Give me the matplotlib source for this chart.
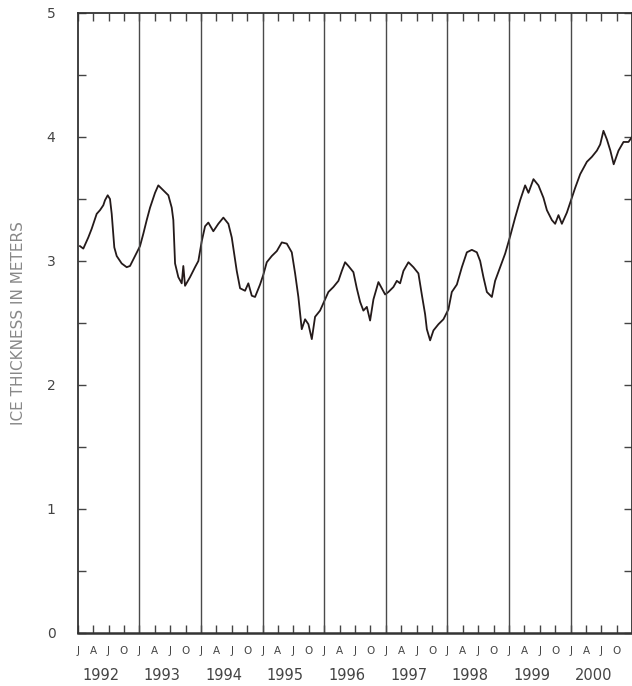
import matplotlib
matplotlib.use("Agg")
import matplotlib.pyplot as plt
import numpy as np

# ---- data ----
time_offset = [0.037, 0.091, 0.172, 0.227, 0.308, 0.362, 0.416, 0.443, 0.487, 0.524, 0.552, 0.594, 0.633, 0.714, 0.795, 0.849, 0.930,
               1.011, 1.065, 1.120, 1.174, 1.255, 1.308, 1.390, 1.471, 1.526, 1.552, 1.580, 1.633, 1.688, 1.714, 1.742, 1.823, 1.904, 1.958,
               2.013, 2.067, 2.120, 2.201, 2.282, 2.364, 2.445, 2.500, 2.581, 2.635, 2.716, 2.769, 2.825, 2.878, 2.959,
               3.013, 3.068, 3.149, 3.231, 3.312, 3.393, 3.474, 3.528, 3.581, 3.636, 3.690, 3.744, 3.799, 3.852, 3.933,
               4.015, 4.068, 4.149, 4.231, 4.286, 4.339, 4.393, 4.474, 4.529, 4.583, 4.636, 4.692, 4.745, 4.799, 4.880, 4.935, 4.989,
               5.042, 5.123, 5.179, 5.232, 5.286, 5.367, 5.448, 5.529, 5.584, 5.638, 5.666, 5.719, 5.773, 5.854, 5.935,
               6.016, 6.071, 6.153, 6.234, 6.315, 6.396, 6.477, 6.531, 6.584, 6.640, 6.721, 6.774, 6.856, 6.937,
               7.018, 7.099, 7.180, 7.261, 7.315, 7.396, 7.477, 7.558, 7.614, 7.695, 7.748, 7.802, 7.857, 7.938,
               8.019, 8.073, 8.154, 8.263, 8.344, 8.425, 8.479, 8.532, 8.588, 8.644, 8.698, 8.776, 8.857, 8.938, 8.994]
ice_thickness = [3.12, 3.10, 3.19, 3.26, 3.38, 3.41, 3.45, 3.49, 3.53, 3.50, 3.38, 3.11, 3.04, 2.98, 2.95, 2.96, 3.04,
                 3.12, 3.22, 3.33, 3.43, 3.55, 3.61, 3.57, 3.53, 3.43, 3.33, 2.98, 2.87, 2.82, 2.96, 2.80, 2.87, 2.95, 3.00,
                 3.16, 3.28, 3.31, 3.24, 3.30, 3.35, 3.30, 3.19, 2.92, 2.78, 2.76, 2.82, 2.72, 2.71, 2.81,
                 2.89, 2.99, 3.04, 3.08, 3.15, 3.14, 3.07, 2.90, 2.71, 2.45, 2.53, 2.49, 2.37, 2.55, 2.60,
                 2.69, 2.75, 2.79, 2.84, 2.92, 2.99, 2.96, 2.91, 2.78, 2.67, 2.60, 2.63, 2.52, 2.69, 2.83, 2.78, 2.73,
                 2.75, 2.79, 2.84, 2.82, 2.92, 2.99, 2.95, 2.90, 2.73, 2.57, 2.45, 2.36, 2.44, 2.49, 2.53,
                 2.61, 2.75, 2.81, 2.95, 3.07, 3.09, 3.07, 3.00, 2.87, 2.75, 2.71, 2.84, 2.95, 3.06,
                 3.20, 3.35, 3.49, 3.61, 3.55, 3.66, 3.61, 3.51, 3.41, 3.33, 3.30, 3.37, 3.30, 3.39,
                 3.51, 3.59, 3.70, 3.80, 3.84, 3.89, 3.94, 4.05, 3.98, 3.89, 3.78, 3.89, 3.96, 3.96, 4.00]
start_year = 1992
years = [1992, 1993, 1994, 1995, 1996, 1997, 1998, 1999, 2000]
month_letters = ["J", "A", "J", "O"]
y_ticks = [0, 1, 2, 3, 4, 5]
y_label = "ICE THICKNESS IN METERS"

# ---- figure ----
W, H = 632, 686
fig = plt.figure(figsize=(W / 100, H / 100), dpi=100)
left_px, right_px, top_px, bot_px = 77.7, 632.3, 13, 633
ax = fig.add_axes([left_px / W, (H - bot_px) / H, (right_px - left_px) / W, (bot_px - top_px) / H])

t = np.array(time_offset) + start_year
ax.plot(t, ice_thickness, color="#241a1a", lw=1.3, solid_joinstyle="round")

ax.set_xlim(years[0], years[-1] + 1)
ax.set_ylim(0, 5)

# year boundaries
for yr in years[1:]:
    ax.axvline(yr, color="#4a4a4a", lw=1.0)

# x ticks at quarters
quarters = [yr + q * 0.25 for yr in years for q in range(4)]
ax.set_xticks(quarters)
ax.set_xticklabels(month_letters * len(years), fontsize=7.5, color="#444444")
ax.tick_params(axis="x", direction="in", length=6, width=1.0, color="#444444",
               top=True, bottom=True, pad=9)

# year labels
for yr in years:
    ax.text(yr + 0.37, -0.068, str(yr), transform=ax.get_xaxis_transform(),
            ha="center", va="center", fontsize=10.5, color="#444444")

# y ticks
ax.set_yticks(y_ticks)
ax.set_yticks(np.arange(0.5, 5, 1.0), minor=True)
ax.tick_params(axis="y", which="both", direction="in", length=6, width=1.0,
               color="#444444", left=True, right=True, pad=16)
ax.tick_params(axis="y", which="major", labelsize=10, labelcolor="#444444")

for s in ax.spines.values():
    s.set_color("#333333")
    s.set_linewidth(1.3)
ax.spines["bottom"].set_linewidth(1.8)

fig.text(19 / W, 1 - 323 / H, y_label, rotation=90, ha="center", va="center",
         fontsize=11, color="#888888")

fig.savefig("out.png", dpi=100)
